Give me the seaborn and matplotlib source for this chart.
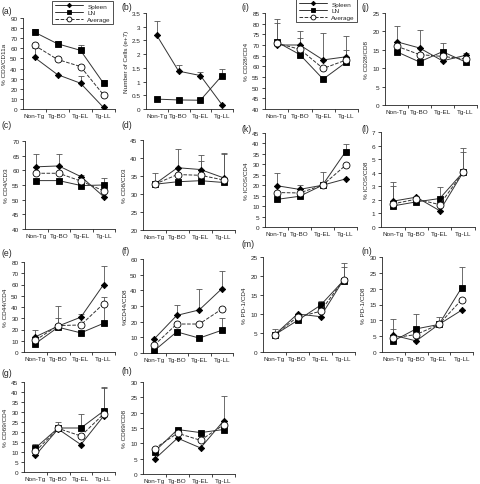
import numpy as np
import pandas as pd
import matplotlib
matplotlib.use("Agg")
import matplotlib.pyplot as plt
import seaborn as sns
from matplotlib.lines import Line2D

sns.set_theme(style="ticks")
plt.rcParams['font.family'] = ['Liberation Sans', 'DejaVu Sans']

categories = ["Non-Tg", "Tg-BO", "Tg-EL", "Tg-LL"]
series_names = ["Spleen", "LN", "Average"]

# values per panel: spleen, LN, average, and upper error-bar ends (None = no bar)
a_spleen = [51, 34, 25.5, 1.5]
a_ln = [76, 64.5, 58, 25.5]
a_avg = [63, 49, 42, 14]
a_spleen_top = [60, None, 32.5, None]
a_ln_top = [79.5, 67.5, 63, 28.5]

b_spleen = [2.68, 1.38, 1.22, 0.15]
b_ln = [0.36, 0.33, 0.32, 1.22]
b_spleen_top = [3.2, 1.6, 1.35, None]
b_ln_top = [None, None, None, 1.47]

c_spleen = [61.2, 61.5, 57.8, 51]
c_ln = [56.5, 56.5, 54.8, 55]
c_avg = [59, 59, 56.3, 53]
c_spleen_top = [65.5, 65.5, 58.5, None]
c_ln_top = [None, None, None, 57.5]

d_spleen = [32.7, 37.3, 36.8, 34.5]
d_ln = [32.7, 33.4, 33.7, 33.2]
d_avg = [32.7, 35.4, 35.2, 33.9]
d_spleen_top = [35.8, 42.5, 40.8, 41.3]
d_ln_top = [None, None, 39.2, 41.0]

e_spleen = [13.5, 23, 31, 60]
e_ln = [7.5, 22, 17, 25.5]
e_avg = [10.5, 23.5, 24, 43]
e_spleen_top = [19.5, 41, 34, 76.5]
e_ln_top = [None, 30, None, 49]

f_spleen = [9, 24, 27.5, 41]
f_ln = [1.5, 13.5, 9.5, 14.5]
f_avg = [5, 18.5, 18.5, 28]
f_spleen_top = [None, 30.5, 41, 52.5]
f_ln_top = [None, None, None, 22.5]

g_spleen = [8.3, 21.5, 13.7, 28]
g_ln = [12, 22, 22, 30.5]
g_avg = [10.3, 21.8, 18, 29]
g_spleen_top = [None, None, None, 41.8]
g_ln_top = [13.8, 25, 29, 42.5]

h_spleen = [4.8, 11.7, 8.5, 17.3]
h_ln = [7.3, 14.5, 13.5, 14.5]
h_avg = [8.3, 13.3, 11, 16]
h_spleen_top = [None, None, None, 25.3]
h_ln_top = [None, None, None, None]

i_spleen = [70, 70, 63, 64.5]
i_ln = [71.5, 65.5, 54, 62]
i_avg = [70.8, 68, 59, 63]
i_spleen_top = [82, 76.5, 75.5, 74]
i_ln_top = [80.5, 73.5, None, 67.5]

j_spleen = [17.2, 15.5, 12, 13.5]
j_ln = [14.5, 11.7, 14.5, 11.7]
j_avg = [16, 13.7, 13.2, 12.5]
j_spleen_top = [21.5, 20.5, None, 14]
j_ln_top = [None, None, 16.8, None]

k_spleen = [19.8, 18, 20, 23]
k_ln = [13.2, 14.7, 20, 36]
k_avg = [16.5, 16.3, 20, 29.5]
k_spleen_top = [26, 20.3, 26.3, None]
k_ln_top = [None, None, None, 39.5]

l_spleen = [1.9, 2.2, 1.2, 4.05]
l_ln = [1.55, 1.85, 2.1, 4.05]
l_avg = [1.7, 2.05, 1.65, 4.05]
l_spleen_top = [3.3, None, None, 5.85]
l_ln_top = [3.0, None, 2.95, 5.55]

m_spleen = [4.5, 10, 9.3, 19]
m_ln = [4.5, 8.3, 12.3, 18.8]
m_avg = [4.5, 9.2, 10.7, 19]
m_spleen_top = [6, None, None, 22.3]
m_ln_top = [None, None, 13.3, 23.5]

n_spleen = [5.3, 3.5, 8.7, 13.2]
n_ln = [3.5, 7.3, 8.7, 20.3]
n_avg = [4.5, 5.5, 8.7, 16.5]
n_spleen_top = [10.3, None, 11, None]
n_ln_top = [7.2, 12, None, 27]

# panel specs: label, ylabel, ylim, ystep, data, box (left, top, right, bottom px), label pos
panels = [
    ("(a)", "% CD3/CD11a", (0, 90), 10, a_spleen, a_ln, a_avg, a_spleen_top, a_ln_top, (23, 19, 115, 110), (1, 12)),
    ("(b)", "Number of Cells (e+7)", (0, 3.5), 0.5, b_spleen, b_ln, None, b_spleen_top, b_ln_top, (146, 14, 233, 110), (122, 7)),
    ("(i)", "% CD28/CD4", (40, 85), 5, i_spleen, i_ln, i_avg, i_spleen_top, i_ln_top, (265, 14, 358, 110), (242, 7)),
    ("(j)", "% CD28/CD8", (0, 25), 5, j_spleen, j_ln, j_avg, j_spleen_top, j_ln_top, (385, 14, 477, 106), (362, 7)),
    ("(c)", "% CD4/CD3", (40, 70), 5, c_spleen, c_ln, c_avg, c_spleen_top, c_ln_top, (25, 142, 115, 230), (1, 126)),
    ("(d)", "% CD8/CD3", (20, 45), 5, d_spleen, d_ln, d_avg, d_spleen_top, d_ln_top, (143, 141, 235, 231), (121, 126)),
    ("(k)", "% ICOS/CD4", (0, 45), 5, k_spleen, k_ln, k_avg, k_spleen_top, k_ln_top, (265, 134, 357, 228), (241, 130)),
    ("(l)", "% ICOS/CD8", (0, 7), 1, l_spleen, l_ln, l_avg, l_spleen_top, l_ln_top, (381, 133, 475, 228), (361, 130)),
    ("(e)", "% CD44/CD4", (0, 80), 10, e_spleen, e_ln, e_avg, e_spleen_top, e_ln_top, (24, 263, 115, 353), (1, 254)),
    ("(f)", "%CD44/CD8", (0, 60), 10, f_spleen, f_ln, f_avg, f_spleen_top, f_ln_top, (143, 260, 233, 354), (121, 252)),
    ("(m)", "% PD-1/CD4", (0, 25), 5, m_spleen, m_ln, m_avg, m_spleen_top, m_ln_top, (263, 258, 355, 353), (242, 245)),
    ("(n)", "% PD-1/CD8", (0, 30), 5, n_spleen, n_ln, n_avg, n_spleen_top, n_ln_top, (382, 258, 473, 353), (361, 251)),
    ("(g)", "% CD69/CD4", (0, 45), 5, g_spleen, g_ln, g_avg, g_spleen_top, g_ln_top, (24, 383, 115, 473), (1, 374)),
    ("(h)", "% CD69/CD8", (0, 30), 5, h_spleen, h_ln, h_avg, h_spleen_top, h_ln_top, (143, 383, 235, 475), (121, 372)),
]

W, H = 480, 485
fig = plt.figure(figsize=(W / 100, H / 100), dpi=100)
fig.patch.set_facecolor("white")

FS = 4.6

styles = {
    "Spleen": dict(marker="D", markersize=3.2, linestyle="-", mfc="black", mec="black"),
    "LN": dict(marker="s", markersize=4.6, linestyle="-", mfc="black", mec="black"),
    "Average": dict(marker="o", markersize=5.0, linestyle="--", mfc="white", mec="black"),
}

def draw_err(ax, vals, tops):
    xs, ys, es = [], [], []
    for k, (v, t) in enumerate(zip(vals, tops)):
        if t is not None:
            xs.append(k); ys.append(v); es.append(t - v)
    if xs:
        ax.errorbar(xs, ys, yerr=[np.zeros(len(es)), es], fmt="none", ecolor="#555555",
                    elinewidth=0.6, capsize=2.2, capthick=0.6, zorder=1)

for (lab, ylab, ylim, ystep, sp, ln, av, sp_top, ln_top, box, lpos) in panels:
    l, t, r, b = box
    ax = fig.add_axes([l / W, 1 - b / H, (r - l) / W, (b - t) / H])
    ax.set_facecolor("white")
    rows = []
    for name, vals in (("Spleen", sp), ("LN", ln), ("Average", av)):
        if vals is None:
            continue
        for c, v in zip(categories, vals):
            rows.append(dict(cat=c, val=v, series=name))
    df = pd.DataFrame(rows)
    draw_err(ax, sp, sp_top)
    draw_err(ax, ln, ln_top)
    for name in ("Spleen", "LN", "Average"):
        sub = df[df.series == name]
        if sub.empty:
            continue
        st = styles[name]
        sns.lineplot(data=sub, x="cat", y="val", ax=ax, color="#333333", linewidth=0.7,
                     linestyle=st["linestyle"], marker=st["marker"], markersize=st["markersize"],
                     markerfacecolor=st["mfc"], markeredgecolor=st["mec"], markeredgewidth=0.6,
                     sort=False, legend=False, zorder=3 if name != "Average" else 4)
    ax.set_xlim(-0.5, 3.5)
    ax.set_ylim(*ylim)
    yt = np.arange(ylim[0], ylim[1] + ystep / 2, ystep)
    ax.set_yticks(yt)
    ax.set_yticklabels([("%g" % v) for v in yt])
    ax.set_xticks(range(4))
    ax.set_xticklabels(categories)
    ax.set_xticks([0.5, 1.5, 2.5, 3.5], minor=True)
    ax.tick_params(axis="x", which="major", length=0, labelsize=FS, pad=3)
    ax.tick_params(axis="x", which="minor", length=2.5, width=0.6, direction="out")
    ax.tick_params(axis="y", which="major", length=2.5, width=0.6, labelsize=FS, pad=1.5)
    ax.set_xlabel("")
    ax.set_ylabel(ylab, fontsize=FS, labelpad=2)
    for s in ("top", "right"):
        ax.spines[s].set_visible(False)
    for s in ("left", "bottom"):
        ax.spines[s].set_linewidth(0.6)
        ax.spines[s].set_color("#222222")
    fig.text(lpos[0] / W, 1 - lpos[1] / H, lab, fontsize=6.2, ha="left", va="center")

def make_handles():
    hs = []
    for name in series_names:
        st = styles[name]
        hs.append(Line2D([0], [0], color="#333333", linewidth=0.7, linestyle=st["linestyle"],
                         marker=st["marker"], markersize=st["markersize"] * 0.7,
                         markerfacecolor=st["mfc"], markeredgecolor=st["mec"], markeredgewidth=0.6))
    return hs

for (x0, y0, x1, y1) in [(53, 2, 113, 30), (295, 0, 357, 24)]:
    leg = fig.legend(make_handles(), series_names, loc="upper right",
                     bbox_to_anchor=(x1 / W, 1 - y0 / H), bbox_transform=fig.transFigure,
                     fontsize=FS, frameon=True, fancybox=False, borderpad=0.35,
                     labelspacing=0.2, handlelength=4.5, handletextpad=0.6, borderaxespad=0)
    leg.get_frame().set_edgecolor("black")
    leg.get_frame().set_linewidth(0.6)

fig.savefig("out.png", dpi=100, facecolor="white")
